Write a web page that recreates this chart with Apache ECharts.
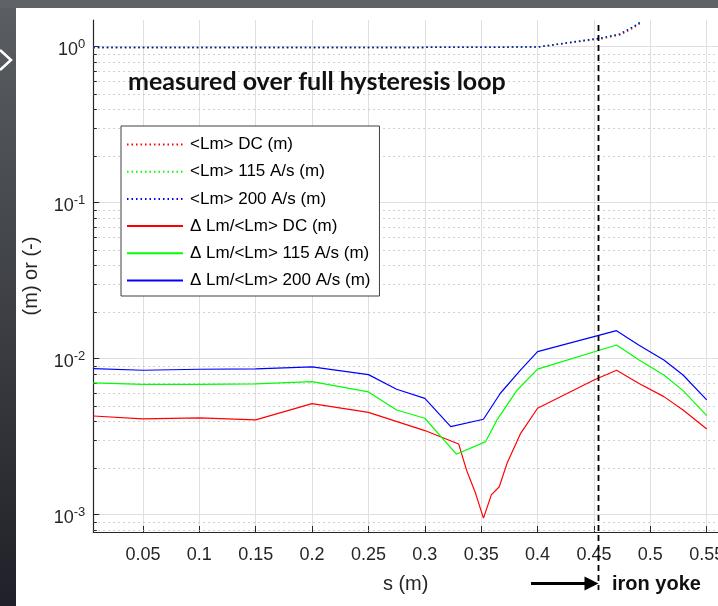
<!DOCTYPE html>
<html>
<head>
<meta charset="utf-8">
<script src="https://cdn.jsdelivr.net/npm/echarts@6/dist/echarts.min.js"></script>
<style>
  html, body { margin: 0; padding: 0; background: #ffffff; }
  #chart { width: 718px; height: 606px; }
</style>
</head>
<body>
<div id="chart"></div>
<script>
// Position along the magnet, s (m), and relative length variation for each ramp rate
const sDC    = [0.006, 0.05, 0.1, 0.15, 0.2, 0.25, 0.3, 0.33, 0.337, 0.345, 0.352, 0.359, 0.366, 0.373, 0.385, 0.4, 0.45, 0.47, 0.49, 0.512, 0.529, 0.55];
const dLmDC  = [0.00429, 0.00411, 0.00417, 0.00405, 0.00515, 0.00453, 0.00346, 0.00284, 0.00193, 0.00137, 0.00095, 0.00134, 0.00151, 0.00214, 0.00332, 0.00481, 0.0073, 0.00843, 0.00694, 0.00571, 0.00469, 0.00354];

const s115   = [0.006, 0.05, 0.1, 0.15, 0.2, 0.25, 0.275, 0.3, 0.328, 0.354, 0.364, 0.382, 0.4, 0.47, 0.49, 0.512, 0.529, 0.55];
const dLm115 = [0.00699, 0.00685, 0.00685, 0.00689, 0.00712, 0.00612, 0.00469, 0.00415, 0.00244, 0.00294, 0.00405, 0.0063, 0.00857, 0.01224, 0.0098, 0.00786, 0.00624, 0.00431];

const s200   = [0.006, 0.05, 0.1, 0.15, 0.2, 0.25, 0.275, 0.3, 0.323, 0.352, 0.367, 0.385, 0.4, 0.47, 0.49, 0.512, 0.529, 0.55];
const dLm200 = [0.00863, 0.00843, 0.00855, 0.00859, 0.00885, 0.0079, 0.00637, 0.00557, 0.00367, 0.00409, 0.006, 0.00847, 0.01109, 0.01512, 0.0122, 0.00981, 0.00786, 0.00544];

// Mean magnetic length <Lm> (m)
const sLm    = [0.006, 0.1, 0.2, 0.3, 0.4, 0.45, 0.458, 0.473, 0.485, 0.492];
const lmDC   = [0.99, 0.99, 0.99, 0.99, 0.995, 1.11, 1.13, 1.19, 1.32, 1.43];
const lm115  = [0.99, 0.99, 0.99, 0.99, 0.995, 1.12, 1.142, 1.206, 1.344, 1.446];
const lm200  = [0.99, 0.99, 0.99, 0.99, 0.995, 1.12, 1.142, 1.206, 1.344, 1.446];

const seriesNames = [
  '<Lm> DC (m)', '<Lm> 115 A/s (m)', '<Lm> 200 A/s (m)',
  '\u0394 Lm/<Lm> DC (m)', '\u0394 Lm/<Lm> 115 A/s (m)', '\u0394 Lm/<Lm> 200 A/s (m)'
];

// Start of the iron yoke along s (m)
const ironYokeS = 0.454;

const xMin = 0.006, xMax = 0.56;
const yMin = 0.000774, yMax = 1.483;

// Minor log-grid values (2..9 x 10^k) inside the y range
const minorY = [];
for (let k = -4; k <= 0; k++) {
  for (let m = 2; m <= 9; m++) {
    const v = m * Math.pow(10, k);
    if (v > yMin && v < yMax) minorY.push(v);
  }
}

const FONT = "'Liberation Sans', Arial, Helvetica, sans-serif";
const AX = '#262626';

function pairs(xs, ys) { return xs.map((x, i) => [x, ys[i]]); }

function lineSeries(name, xs, ys, color, dotted) {
  return {
    name: name, type: 'line', data: pairs(xs, ys),
    symbol: 'none', smooth: false, clip: true, z: dotted ? 3 : 4,
    lineStyle: { color: color, width: dotted ? 1.5 : 1.2, type: dotted ? [1.5, 3] : 'solid' },
    itemStyle: { color: color, opacity: 0 },
    emphasis: { disabled: true }
  };
}

const chart = echarts.init(document.getElementById('chart'), null, { renderer: 'canvas' });

chart.setOption({
  animation: false,
  backgroundColor: '#ffffff',
  grid: { left: 93.3, top: 20, right: 0, bottom: 74, containLabel: false, outerBoundsMode: 'none' },
  legend: {
    left: 121, top: 126, orient: 'vertical',
    itemWidth: 56, itemHeight: 14, itemGap: 10.2,
    padding: [10, 9, 7, 5],
    borderColor: '#404040', borderWidth: 1, backgroundColor: '#ffffff',
    selectedMode: false,
    itemStyle: { opacity: 0 },
    textStyle: { fontSize: 17, color: '#000000', fontFamily: FONT, padding: [0, 0, 0, 2] },
    data: seriesNames
  },
  xAxis: {
    type: 'value', min: xMin, max: xMax,
    splitNumber: 11, minInterval: 0.05, maxInterval: 0.05,
    axisLine: { onZero: false, lineStyle: { color: AX, width: 1.2 } },
    axisTick: { inside: true, length: 6, lineStyle: { color: AX, width: 1 } },
    axisLabel: { showMinLabel: false, showMaxLabel: false, fontSize: 18, color: AX, fontFamily: FONT, margin: 14 },
    splitLine: { show: true, lineStyle: { color: '#dfdfdf', width: 1 } },
    name: 's (m)', nameLocation: 'middle', nameGap: 42,
    nameTextStyle: { fontSize: 20, color: AX, fontFamily: FONT }
  },
  yAxis: {
    type: 'log', logBase: 10, min: yMin, max: yMax,
    axisLine: { show: true, onZero: false, lineStyle: { color: AX, width: 1.2 } },
    axisTick: { show: true, inside: true, length: 6, lineStyle: { color: AX, width: 1 } },
    axisLabel: {
      showMinLabel: false, showMaxLabel: false, margin: 8,
      formatter: function (v) { return '{b|10}{s|' + Math.round(Math.log10(v)) + '}'; },
      rich: {
        b: { fontSize: 18, color: AX, fontFamily: FONT, padding: [6, 0, 0, 0] },
        s: { fontSize: 13, color: AX, fontFamily: FONT, padding: [0, 0, 4, 0] }
      }
    },
    splitLine: { show: true, showMinLine: false, showMaxLine: false, lineStyle: { color: '#dfdfdf', width: 1 } },
    name: '(m) or (-)', nameLocation: 'middle', nameGap: 52,
    nameTextStyle: { fontSize: 20, color: AX, fontFamily: FONT }
  },
  series: [
    {
      // dotted minor grid and small ticks at 2..9 x 10^k
      name: 'minor-grid', type: 'custom', z: 1, silent: true, clip: true,
      data: minorY.map(v => [xMin, v]),
      encode: { x: 0, y: 1 },
      renderItem: function (params, api) {
        const cs = params.coordSys;
        const y = Math.round(api.coord([api.value(0), api.value(1)])[1]) + 0.5;
        return {
          type: 'group',
          children: [
            { type: 'line', shape: { x1: cs.x, y1: y, x2: cs.x + cs.width, y2: y },
              style: { stroke: '#c2c2c2', lineWidth: 1, lineDash: [1.5, 3.5] } },
            { type: 'line', shape: { x1: cs.x, y1: y, x2: cs.x + 3.5, y2: y },
              style: { stroke: AX, lineWidth: 1 } }
          ]
        };
      }
    },
    lineSeries(seriesNames[0], sLm, lmDC, '#ff0000', true),
    lineSeries(seriesNames[1], sLm, lm115, '#00ff00', true),
    lineSeries(seriesNames[2], sLm, lm200, '#0000ff', true),
    lineSeries(seriesNames[3], sDC, dLmDC, '#ff0000', false),
    lineSeries(seriesNames[4], s115, dLm115, '#00ff00', false),
    lineSeries(seriesNames[5], s200, dLm200, '#0000ff', false)
  ]
});

// Annotations: slide frame, title, iron yoke marker and arrow
const yokeX = Math.round(chart.convertToPixel({ xAxisIndex: 0 }, ironYokeS)) + 0.5;

chart.setOption({
  graphic: [
    { type: 'rect', z: 0, silent: true, shape: { x: 0, y: 0, width: 16, height: 606 },
      style: { fill: new echarts.graphic.LinearGradient(0, 0, 0, 1, [
        { offset: 0, color: '#5b5f63' }, { offset: 1, color: '#202128' }]) } },
    { type: 'rect', z: 0, silent: true, shape: { x: 0, y: 0, width: 718, height: 8 },
      style: { fill: '#5f6367' } },
    { type: 'polyline', z: 1, silent: true, shape: { points: [[0, 50], [11, 60], [0, 70]] },
      style: { stroke: '#ffffff', lineWidth: 2.5, fill: null } },
    { type: 'text', z: 10, silent: true, x: 128, y: 82,
      style: { text: 'measured over full hysteresis loop', font: 'bold 25px Lato, sans-serif',
               fill: '#111111', textAlign: 'left', textVerticalAlign: 'middle' } },
    { type: 'line', z: 10, silent: true, shape: { x1: yokeX, y1: 25, x2: yokeX, y2: 590 },
      style: { stroke: '#000000', lineWidth: 1.8, lineDash: [6, 4] } },
    { type: 'line', z: 10, silent: true, shape: { x1: 531, y1: 583.5, x2: yokeX - 12, y2: 583.5 },
      style: { stroke: '#000000', lineWidth: 2.8 } },
    { type: 'polygon', z: 10, silent: true,
      shape: { points: [[yokeX - 14, 576.5], [yokeX, 583.5], [yokeX - 14, 590.5]] },
      style: { fill: '#000000' } },
    { type: 'text', z: 10, silent: true, x: 612, y: 584.5,
      style: { text: 'iron yoke', font: 'bold 20px "Liberation Sans", Arial, sans-serif',
               fill: '#111111', textAlign: 'left', textVerticalAlign: 'middle' } }
  ]
});
</script>
</body>
</html>
